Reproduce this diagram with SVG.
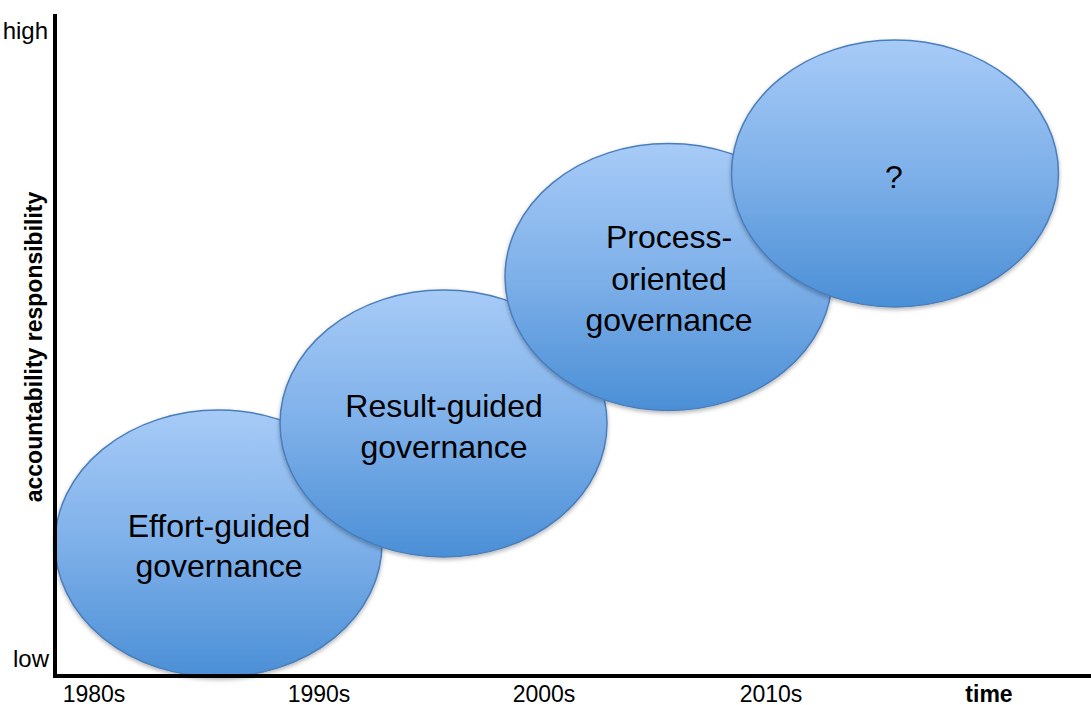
<svg xmlns="http://www.w3.org/2000/svg" width="1091" height="705" viewBox="0 0 1091 705">
  <style>
    .bubble { fill: url(#blueGrad); stroke: #4a7ebb; stroke-width: 1.5; filter: url(#shadow); }
    .label { font-family: "Liberation Sans", Arial, sans-serif; font-size: 32px; fill: #000; text-anchor: middle; }
    .tick { font-family: "Liberation Sans", Arial, sans-serif; font-size: 23px; fill: #000; text-anchor: middle; }
    .level { font-family: "Liberation Sans", Arial, sans-serif; font-size: 24px; fill: #000; text-anchor: end; }
    .axisTitle { font-family: "Liberation Sans", Arial, sans-serif; font-size: 23px; font-weight: bold; fill: #000; text-anchor: middle; }
    .axis { stroke: #000; stroke-width: 4; fill: none; }
  </style>
  <defs>
    <linearGradient id="blueGrad" x1="0" y1="0" x2="0" y2="1">
      <stop offset="0" stop-color="#a7cbf7"/>
      <stop offset="0.5" stop-color="#7eb0e9"/>
      <stop offset="1" stop-color="#4b8fd6"/>
    </linearGradient>
    <filter id="shadow" x="-10%" y="-10%" width="120%" height="125%">
      <feDropShadow dx="0" dy="2" stdDeviation="2" flood-color="#000" flood-opacity="0.3"/>
    </filter>
  </defs>
  <rect x="0" y="0" width="1091" height="705" fill="#fff"/>

  <g id="node-effort">
    <ellipse class="bubble" cx="218.5" cy="543.5" rx="163.5" ry="133.5"/>
    <text class="label" x="219" y="537">Effort-guided</text>
    <text class="label" x="219" y="577">governance</text>
  </g>
  <g id="node-result">
    <ellipse class="bubble" cx="443.5" cy="423.5" rx="163.5" ry="133.5"/>
    <text class="label" x="444" y="417">Result-guided</text>
    <text class="label" x="444" y="458">governance</text>
  </g>
  <g id="node-process">
    <ellipse class="bubble" cx="668.5" cy="277" rx="163.5" ry="133.5"/>
    <text class="label" x="669" y="248">Process-</text>
    <text class="label" x="669" y="290">oriented</text>
    <text class="label" x="669" y="331">governance</text>
  </g>
  <g id="node-future">
    <ellipse class="bubble" cx="895" cy="173.5" rx="163.5" ry="133.5"/>
    <text class="label" x="894" y="188">?</text>
  </g>

  <g id="connectors">
    <line class="axis" x1="55" y1="14" x2="55" y2="678"/>
    <line class="axis" x1="53" y1="676" x2="1091" y2="676"/>
  </g>

  <g id="axis-labels">
    <text class="level" x="48" y="39">high</text>
    <text class="level" x="49" y="667">low</text>
    <text class="axisTitle" transform="translate(42,347) rotate(-90)">accountability responsibility</text>
    <text class="tick" x="94" y="702">1980s</text>
    <text class="tick" x="319" y="702">1990s</text>
    <text class="tick" x="544" y="702">2000s</text>
    <text class="tick" x="771" y="702">2010s</text>
    <text class="tick" x="989" y="702" font-weight="bold">time</text>
  </g>
</svg>
